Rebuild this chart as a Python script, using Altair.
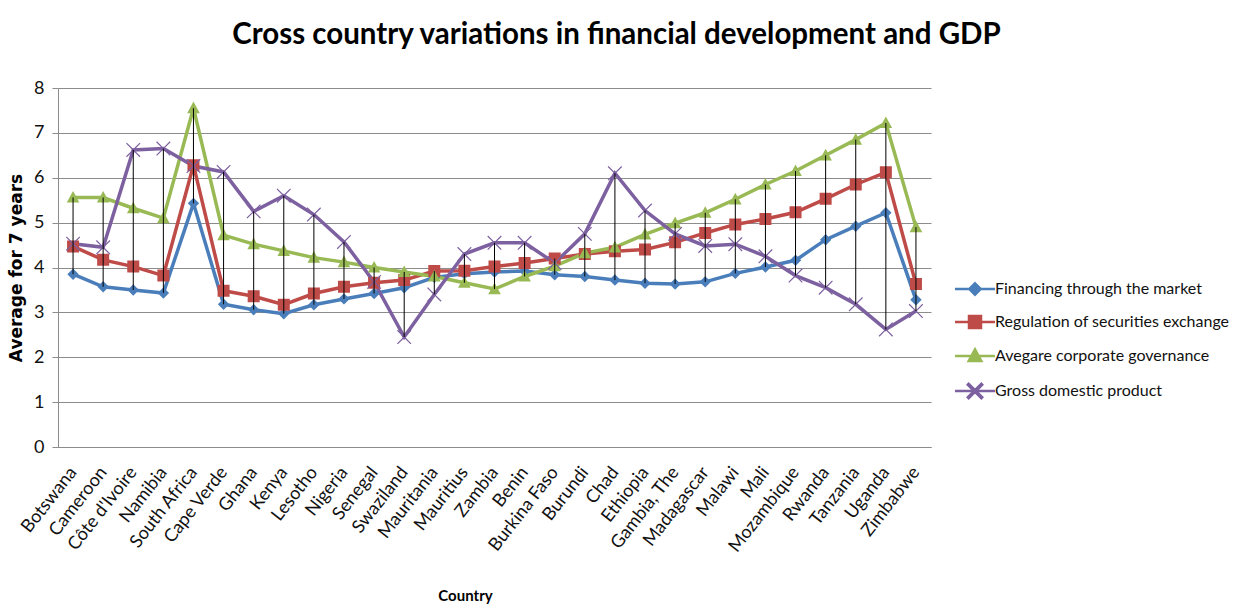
import math
import altair as alt
import pandas as pd

# Country order along the x axis
countries = [
    "Botswana", "Cameroon", "Côte d'Ivoire", "Namibia", "South Africa",
    "Cape Verde", "Ghana", "Kenya", "Lesotho", "Nigeria", "Senegal",
    "Swaziland", "Mauritania", "Mauritius", "Zambia", "Benin",
    "Burkina Faso", "Burundi", "Chad", "Ethiopia", "Gambia, The",
    "Madagascar", "Malawi", "Mali", "Mozambique", "Rwanda", "Tanzania",
    "Uganda", "Zimbabwe",
]

# Seven-year averages per country
financing = [3.85, 3.57, 3.50, 3.43, 5.43, 3.18, 3.06, 2.97, 3.17, 3.30,
             3.42, 3.55, 3.78, 3.86, 3.90, 3.92, 3.84, 3.80, 3.72, 3.65,
             3.63, 3.68, 3.87, 4.01, 4.16, 4.62, 4.92, 5.22, 3.28]
regulation = [4.47, 4.17, 4.02, 3.82, 6.28, 3.48, 3.36, 3.17, 3.42, 3.57,
              3.66, 3.72, 3.92, 3.93, 4.02, 4.10, 4.20, 4.30, 4.36, 4.40,
              4.56, 4.77, 4.96, 5.08, 5.23, 5.53, 5.85, 6.12, 3.63]
governance = [5.56, 5.56, 5.32, 5.10, 7.55, 4.72, 4.52, 4.37, 4.22, 4.12,
              4.00, 3.90, 3.80, 3.66, 3.52, 3.80, 4.03, 4.32, 4.45, 4.74,
              4.99, 5.22, 5.52, 5.85, 6.15, 6.50, 6.85, 7.22, 4.90]
gdp = [4.53, 4.45, 6.62, 6.65, 6.26, 6.13, 5.25, 5.60, 5.18, 4.57,
       3.68, 2.45, 3.40, 4.30, 4.55, 4.55, 4.10, 4.75, 6.10, 5.27,
       4.75, 4.48, 4.52, 4.25, 3.82, 3.55, 3.18, 2.62, 3.03]

series_names = [
    "Financing through the market",
    "Regulation of securities exchange",
    "Avegare corporate governance",
    "Gross domestic product",
]
series_values = [financing, regulation, governance, gdp]
series_colors = ["#4A7EBB", "#BE4B48", "#98B954", "#7D60A0"]


def x_marker(arm=1.6, half=0.1):
    """Thin filled X: a plus outline rotated by 45 degrees."""
    a, w = arm, half
    pts = [(-w, -a), (w, -a), (w, -w), (a, -w), (a, w), (w, w),
           (w, a), (-w, a), (-w, w), (-a, w), (-a, -w), (-w, -w)]
    s = 1 / math.sqrt(2)
    rot = [((x - y) * s, (x + y) * s) for x, y in pts]
    return "M" + "L".join(f"{x:.3f},{y:.3f}" for x, y in rot) + "Z"


# Each marker carries a zero-area line segment: invisible on unstroked
# points in the plot, drawn as the line through the legend symbol.
segment = "M-3.33,0L3.33,0"
marker_paths = [
    segment + "M0,-0.95L0.95,0L0,0.95L-0.95,0Z",
    segment + "M-1,-1L1,-1L1,1L-1,1Z",
    segment + "M0,-1.1L1.05,0.85L-1.05,0.85Z",
    segment + x_marker(),
]

rows = []
for name, vals in zip(series_names, series_values):
    for i, (c, v) in enumerate(zip(countries, vals)):
        rows.append({"country": c, "idx": i, "series": name, "value": v})
df = pd.DataFrame(rows)

FONT = "Lato"
GRID = "#8C8C8C"

x_enc = alt.X(
    "country:N",
    sort=countries,
    scale=alt.Scale(type="point", padding=0.5),
    axis=alt.Axis(
        title="Country",
        labelAngle=-52,
        labelFont=FONT,
        labelFontSize=18,
        labelColor="#111111",
        labelPadding=22,
        ticks=False,
        domainColor=GRID,
        grid=False,
        titleFont=FONT,
        titleFontSize=15,
        titleFontWeight="bold",
        titleColor="#000000",
        titleAlign="center",
        titleBaseline="middle",
        titleX=407,
        titleY=148,
    ),
)
y_enc = alt.Y(
    "value:Q",
    scale=alt.Scale(domain=[0, 8], nice=False),
    axis=alt.Axis(
        title="Average for 7 years",
        values=list(range(0, 9)),
        grid=True,
        gridColor=GRID,
        gridWidth=1,
        domainColor=GRID,
        tickColor=GRID,
        tickSize=6,
        labelFont=FONT,
        labelFontSize=18,
        labelColor="#111111",
        labelPadding=8,
        titleFont="DejaVu Sans",
        titleFontSize=17,
        titleFontWeight="bold",
        titleColor="#000000",
        titlePadding=8,
    ),
)

legend = alt.Legend(
    title=None,
    orient="none",
    legendX=895,
    legendY=193,
    symbolSize=144,
    symbolStrokeWidth=2.5,
    symbolOffset=14,
    labelOffset=12,
    labelFont=FONT,
    labelFontSize=16,
    labelColor="#111111",
    labelLimit=400,
    rowPadding=11,
)
color_enc = alt.Color(
    "series:N",
    scale=alt.Scale(domain=series_names, range=series_colors),
    legend=legend,
)

base = alt.Chart(df).encode(x=x_enc, y=y_enc)

lines = base.mark_line(strokeWidth=3.5).encode(color=color_enc, order="idx:Q")

markers = base.mark_point(filled=True, opacity=1, size=144, strokeWidth=0).encode(
    color=color_enc,
    shape=alt.Shape(
        "series:N",
        scale=alt.Scale(domain=series_names, range=marker_paths),
        legend=legend,
    ),
)

# High-low lines spanning the four series at each country
hilo = alt.Chart(df).mark_rule(color="#000000", strokeWidth=1).encode(
    x=x_enc,
    y=alt.Y("min(value):Q", scale=alt.Scale(domain=[0, 8], nice=False)),
    y2=alt.Y2("max(value)"),
)

chart = alt.layer(lines, markers, hilo).properties(
    width=873,
    height=359,
    title=alt.TitleParams(
        "Cross country variations in  financial development and GDP",
        font=FONT,
        fontSize=29.5,
        fontWeight="bold",
        color="#000000",
        anchor="middle",
        frame="group",
        baseline="alphabetic",
        dx=122,
        offset=6,
    ),
    autosize=alt.AutoSizeParams(type="none"),
    padding={"left": 58, "top": 88, "right": 310, "bottom": 161},
    background="white",
).configure_view(stroke=None)

chart.save("out.html", embed_options={"renderer": "svg", "actions": False})
